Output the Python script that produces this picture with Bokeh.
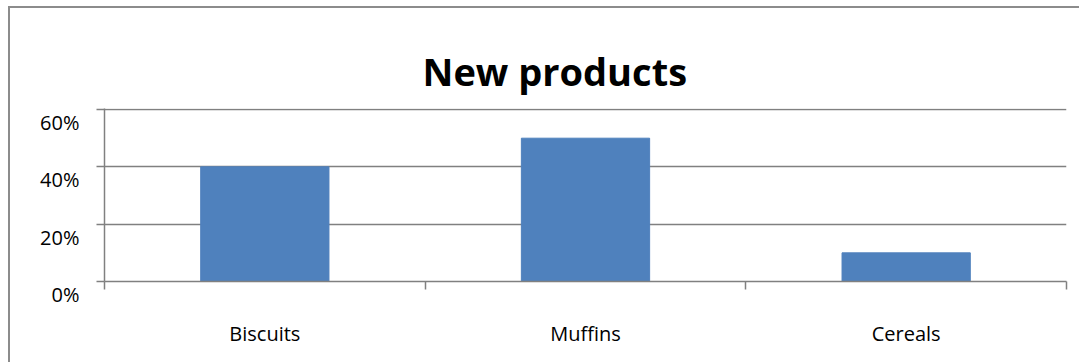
from bokeh.plotting import figure
from bokeh.models import FixedTicker, Range1d, ColumnDataSource
from bokeh.embed import file_html
from bokeh.resources import INLINE

categories = ["Biscuits", "Muffins", "Cereals"]
values = [0.40, 0.50, 0.10]
y_ticks = [0.0, 0.2, 0.4, 0.6]
y_tick_labels = ["0%", "20%", "40%", "60%"]
title_text = "New products"

positions = [i + 0.5 for i in range(len(categories))]
boundaries = list(range(len(categories) + 1))
src = ColumnDataSource(dict(x=positions, top=values, cat=categories))

GRAY = "#808080"
FONT = "Open Sans"

p = figure(width=1071, height=356, output_backend="svg", toolbar_location=None,
           x_range=Range1d(0, len(categories)), y_range=Range1d(0, y_ticks[-1] * 1.006),
           min_border_left=94, min_border_right=15, min_border_top=100,
           min_border_bottom=83)
p.styles = {"border-left": "2px solid #8c8c8c", "border-top": "2px solid #8c8c8c",
            "margin-left": "8px", "margin-top": "6px"}
p.outline_line_color = None
p.background_fill_color = "white"
p.border_fill_color = "white"

p.vbar(x="x", top="top", width=0.4, source=src, color="#4F81BD")

p.xgrid.visible = False
p.ygrid.ticker = FixedTicker(ticks=y_ticks)
p.ygrid.grid_line_color = GRAY
p.ygrid.grid_line_width = 1.5

ya = p.yaxis[0]
ya.ticker = FixedTicker(ticks=y_ticks)
# labels sit a little below their tick, as in the original (leading empty line)
ya.major_label_overrides = {t: "\n" + lab for t, lab in zip(y_ticks, y_tick_labels)}
ya.axis_line_color = GRAY
ya.axis_line_width = 1.5
ya.major_tick_line_color = GRAY
ya.major_tick_line_width = 1.5
ya.major_tick_out = 8
ya.major_tick_in = 0
ya.minor_tick_line_color = None
ya.major_label_standoff = 17
ya.major_label_text_font = FONT
ya.major_label_text_font_size = "20px"
ya.major_label_text_color = "black"
ya.major_label_text_line_height = 0.95

xa = p.xaxis[0]
xa.ticker = FixedTicker(ticks=positions, minor_ticks=boundaries)
xa.major_label_overrides = {pos: c for pos, c in zip(positions, categories)}
xa.axis_line_color = GRAY
xa.axis_line_width = 1.5
xa.major_tick_out = 0
xa.major_tick_in = 0
xa.major_tick_line_color = None
xa.minor_tick_line_color = GRAY
xa.minor_tick_line_width = 1.5
xa.minor_tick_out = 8
xa.minor_tick_in = 0
xa.major_label_standoff = 30
xa.major_label_text_font = FONT
xa.major_label_text_font_size = "20px"
xa.major_label_text_color = "black"

p.title.text = title_text
p.title.align = "left"
p.title.offset = 318
p.title.text_font = FONT
p.title.text_font_size = "38px"
p.title.text_font_style = "bold"
p.title.text_color = "black"
p.title.standoff = 24

open("out.html", "w").write(file_html(p, INLINE))
